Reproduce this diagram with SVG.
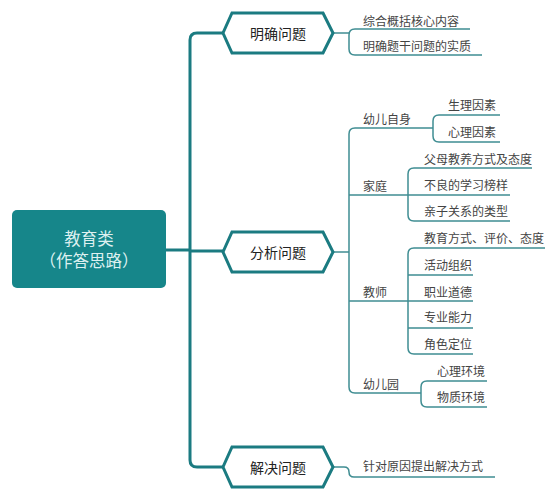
<svg xmlns="http://www.w3.org/2000/svg" width="556" height="500" viewBox="0 0 556 500">
<style>
.thick{fill:none;stroke:#1B7B81;stroke-width:3;stroke-linejoin:round}
.thin{fill:none;stroke:#3F8D92;stroke-width:1.5}
.hex{fill:#fff;stroke:#1B7B81;stroke-width:3;stroke-linejoin:miter}
.hl{font-family:"Noto Sans CJK SC","Noto Sans",sans-serif;font-size:14px;fill:#222;text-anchor:middle}
.t{font-family:"Noto Sans CJK SC","Noto Sans",sans-serif;font-size:12px;fill:#444}
.root{font-family:"Noto Sans CJK SC","Noto Sans",sans-serif;font-size:16.5px;fill:#DDF0F0;text-anchor:middle}
</style>
<rect width="556" height="500" fill="#fff"/>
<g id="connectors">
<path class="thick" d="M166,250 H190"/>
<path class="thick" d="M223,33 H197 Q190,33 190,40 V460 Q190,467 197,467 H223"/>
<path class="thick" d="M190,251 H223"/>
<path class="thin" d="M333,33 H349"/>
<path class="thin" d="M470,29 H355 Q349,29 349,35 V49 Q349,55 355,55 H482"/>
<path class="thin" d="M333,252 H349"/>
<path class="thin" d="M433,128 H355 Q349,128 349,134 V387 Q349,393 355,393 H421"/>
<path class="thin" d="M500,115 H439 Q433,115 433,121 V136 Q433,142 439,142 H500"/>
<path class="thin" d="M349,195 H510"/>
<path class="thin" d="M532,168 H414 Q408,168 408,174 V215 Q408,221 414,221 H510"/>
<path class="thin" d="M349,301 H473"/>
<path class="thin" d="M545,248 H414 Q408,248 408,254 V348 Q408,354 414,354 H473"/>
<path class="thin" d="M408,275 H473 M408,328 H473"/>
<path class="thin" d="M487,381 H427 Q421,381 421,387 V401 Q421,407 427,407 H487"/>
<path class="thin" d="M333,467 H344 Q349,467 349,472 Q349,477 354,477 H495"/>
</g>
<g id="root">
<rect x="12" y="210" width="154" height="78" rx="5" fill="#16868A"/>
<text class="root" x="89" y="245">教育类</text>
<text class="root" x="89" y="267">（作答思路）</text>
</g>
<g id="n-mingque">
<polygon class="hex" points="223,33 232,13 323,13 333,33 323,53 232,53"/>
<text class="hl" x="278" y="38.5">明确问题</text>
</g>
<g id="n-fenxi">
<polygon class="hex" points="223,252 232,232 323,232 333,252 323,272 232,272"/>
<text class="hl" x="278" y="257.5">分析问题</text>
</g>
<g id="n-jiejue">
<polygon class="hex" points="223,467 232,447 323,447 333,467 323,487 232,487"/>
<text class="hl" x="278" y="472.5">解决问题</text>
</g>
<g id="n-a1"><text class="t" x="363" y="26">综合概括核心内容</text></g>
<g id="n-a2"><text class="t" x="363" y="51">明确题干问题的实质</text></g>
<g id="n-b1"><text class="t" x="363" y="124">幼儿自身</text></g>
<g id="n-b1a"><text class="t" x="448" y="110">生理因素</text></g>
<g id="n-b1b"><text class="t" x="448" y="137">心理因素</text></g>
<g id="n-b2"><text class="t" x="363" y="191">家庭</text></g>
<g id="n-b2a"><text class="t" x="424" y="164">父母教养方式及态度</text></g>
<g id="n-b2b"><text class="t" x="424" y="190">不良的学习榜样</text></g>
<g id="n-b2c"><text class="t" x="424" y="216">亲子关系的类型</text></g>
<g id="n-b3"><text class="t" x="363" y="297">教师</text></g>
<g id="n-b3a"><text class="t" x="424" y="243">教育方式、评价、态度</text></g>
<g id="n-b3b"><text class="t" x="424" y="270">活动组织</text></g>
<g id="n-b3c"><text class="t" x="424" y="297">职业道德</text></g>
<g id="n-b3d"><text class="t" x="424" y="322">专业能力</text></g>
<g id="n-b3e"><text class="t" x="424" y="349">角色定位</text></g>
<g id="n-b4"><text class="t" x="363" y="389">幼儿园</text></g>
<g id="n-b4a"><text class="t" x="437" y="376">心理环境</text></g>
<g id="n-b4b"><text class="t" x="437" y="402">物质环境</text></g>
<g id="n-c1"><text class="t" x="363" y="471">针对原因提出解决方式</text></g>
</svg>
